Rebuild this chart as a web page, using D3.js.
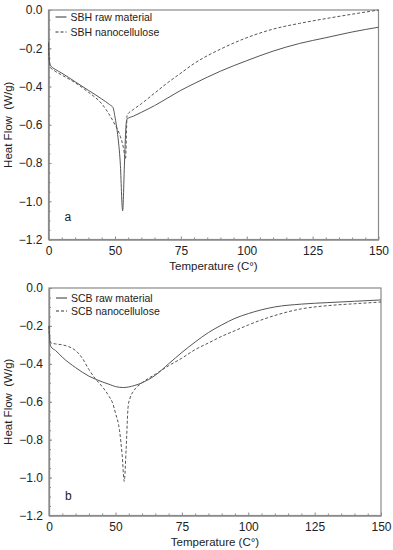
<!DOCTYPE html>
<html>
<head>
<meta charset="utf-8">
<script src="https://cdn.jsdelivr.net/npm/d3@7"></script>
<style>
body{margin:0;background:#fff;}
text{font-family:"Liberation Sans",Arial,sans-serif;fill:#222;}
</style>
</head>
<body>
<svg id="chart"></svg>
<script>
// temperature (C) and heat flow (W/g)
var sbhRawT   = [0,0.5,1.5,5,10,20,30,40,46,48.5,50,51,52,52.9,53.6,54.2,54.6,57,60,65,70,75,80,90,100,110,120,130,140,150]
var sbhRawQ   = [-0.17,-0.25,-0.29,-0.31,-0.33,-0.375,-0.42,-0.465,-0.495,-0.51,-0.56,-0.65,-0.8,-1.05,-0.8,-0.6,-0.57,-0.555,-0.535,-0.5,-0.46,-0.42,-0.385,-0.32,-0.265,-0.215,-0.175,-0.145,-0.115,-0.09]
var sbhNanoT  = [0,0.5,1.5,5,10,20,30,40,46,50,52,53.2,54,54.6,57,60,65,70,75,80,90,100,110,120,130,140,150]
var sbhNanoQ  = [-0.17,-0.26,-0.30,-0.32,-0.34,-0.38,-0.43,-0.49,-0.55,-0.6,-0.66,-0.72,-0.78,-0.55,-0.52,-0.49,-0.435,-0.38,-0.33,-0.28,-0.205,-0.145,-0.1,-0.07,-0.045,-0.022,0.0]
var scbRawT   = [0,0.5,1.5,5,10,20,30,40,46,50,53,57,60,65,70,75,80,85,90,95,100,110,120,130,140,150]
var scbRawQ   = [-0.2,-0.27,-0.31,-0.33,-0.365,-0.42,-0.465,-0.495,-0.51,-0.52,-0.525,-0.515,-0.5,-0.46,-0.4,-0.34,-0.285,-0.235,-0.195,-0.16,-0.135,-0.1,-0.085,-0.077,-0.07,-0.063]
var scbNanoT  = [0,0.5,1.5,5,10,15,20,25,30,35,40,45,48,50,51.5,52.5,53.3,54,54.8,55.5,57,60,65,70,75,80,85,90,95,100,110,120,130,140,150]
var scbNanoQ  = [-0.2,-0.26,-0.29,-0.295,-0.3,-0.31,-0.33,-0.37,-0.43,-0.48,-0.52,-0.57,-0.61,-0.66,-0.75,-0.88,-1.02,-0.85,-0.62,-0.58,-0.54,-0.5,-0.455,-0.41,-0.37,-0.325,-0.29,-0.255,-0.225,-0.195,-0.145,-0.11,-0.093,-0.083,-0.074]

var xTicks = [0,50,75,100,125,150]
var xMinor = [10,20,30,40,55,60,65,70,80,85,90,95,105,110,115,120,130,135,140,145]
var yTicks = [0,-0.2,-0.4,-0.6,-0.8,-1.0,-1.2]

var toPts = function(ts, qs){ return ts.map(function(t,i){return {t:t,q:qs[i]}}) }

var panels = [
  {top:10, bottom:239.5, left:48.5, x50:115, right:378.5, tag:"a", tagY:217, legY:[17,32],
   series:[{name:"SBH raw material", pts:toPts(sbhRawT,sbhRawQ), dash:null},
           {name:"SBH nanocellulose", pts:toPts(sbhNanoT,sbhNanoQ), dash:"3,2"}]},
  {top:288, bottom:515.5, left:49, x50:115.5, right:381, tag:"b", tagY:496, legY:[298,311],
   series:[{name:"SCB raw material", pts:toPts(scbRawT,scbRawQ), dash:null},
           {name:"SCB nanocellulose", pts:toPts(scbNanoT,scbNanoQ), dash:"3,2"}]}
]

var svg = d3.select("#chart").attr("width",393).attr("height",550)

var drawPanel = function(p)
{
    // the drawn axis puts 0..50 in the same space as 50..75
    var xScale = d3.scaleLinear()
        .domain([0,50,150])
        .range([p.left, p.x50, p.right])
    var yScale = d3.scaleLinear()
        .domain([-1.2,0])
        .range([p.bottom,p.top])

    var g = svg.append("g")

    g.append("rect")
        .attr("x",p.left).attr("y",p.top)
        .attr("width",p.right-p.left).attr("height",p.bottom-p.top)
        .attr("fill","none").attr("stroke","#8a8a8a").attr("stroke-width",1.2)

    var xAxis = d3.axisBottom(xScale).tickValues(xTicks).tickFormat(d3.format("d"))
        .tickSizeInner(-3).tickSizeOuter(0).tickPadding(7)
    var xa = g.append("g").attr("transform","translate(0,"+p.bottom+")").call(xAxis)
    var xm = g.append("g").attr("transform","translate(0,"+p.bottom+")")
        .call(d3.axisBottom(xScale).tickValues(xMinor).tickFormat("").tickSizeInner(-2).tickSizeOuter(0))

    var yAxis = d3.axisLeft(yScale).tickValues(yTicks).tickFormat(d3.format(".1f"))
        .tickSizeInner(-3).tickSizeOuter(0).tickPadding(6)
    var ya = g.append("g").attr("transform","translate("+p.left+",0)").call(yAxis)
    var ym = g.append("g").attr("transform","translate("+p.left+",0)")
        .call(d3.axisLeft(yScale).tickValues(d3.range(-23,0).map(function(i){return i*0.05}))
              .tickFormat("").tickSizeInner(-2).tickSizeOuter(0))

    ;[xa,xm,ya,ym].forEach(function(a){
        a.select(".domain").attr("stroke","#8a8a8a").attr("stroke-width",1.2)
        a.selectAll("line").attr("stroke","#8a8a8a")
        a.selectAll("text").attr("font-size",12).attr("fill","#222")
            .attr("font-family","'Liberation Sans',Arial,sans-serif")
    })

    var line = d3.line()
        .x(function(d){return xScale(d.t)})
        .y(function(d){return yScale(d.q)})
        .curve(d3.curveMonotoneX)

    p.series.forEach(function(s){
        g.append("path")
            .datum(s.pts)
            .attr("d",line)
            .attr("fill","none")
            .attr("stroke","#555")
            .attr("stroke-width",1)
            .attr("stroke-dasharray",s.dash)
    })

    // legend
    p.series.forEach(function(s,i){
        g.append("line")
            .attr("x1",p.left+7).attr("x2",p.left+18)
            .attr("y1",p.legY[i]).attr("y2",p.legY[i])
            .attr("stroke","#333").attr("stroke-width",1)
            .attr("stroke-dasharray",s.dash)
        g.append("text")
            .text(s.name)
            .attr("x",p.left+22).attr("y",p.legY[i]+4)
            .attr("font-size",10.5)
    })

    g.append("text").text(p.tag)
        .attr("x",p.left+16).attr("y",p.tagY+4)
        .attr("font-size",12)

    g.append("text").text("Temperature (C°)")
        .attr("text-anchor","middle")
        .attr("x",(p.left+p.right)/2).attr("y",p.bottom+30)
        .attr("font-size",11.5)

    g.append("g")
        .attr("transform","translate(12,"+((p.top+p.bottom)/2)+")")
        .append("text")
        .text("Heat Flow  (W/g)")
        .attr("text-anchor","middle")
        .attr("transform","rotate(270)")
        .attr("font-size",11.5)
        .attr("xml:space","preserve")
        .style("white-space","pre")
}

panels.forEach(drawPanel)
</script>
</body>
</html>
